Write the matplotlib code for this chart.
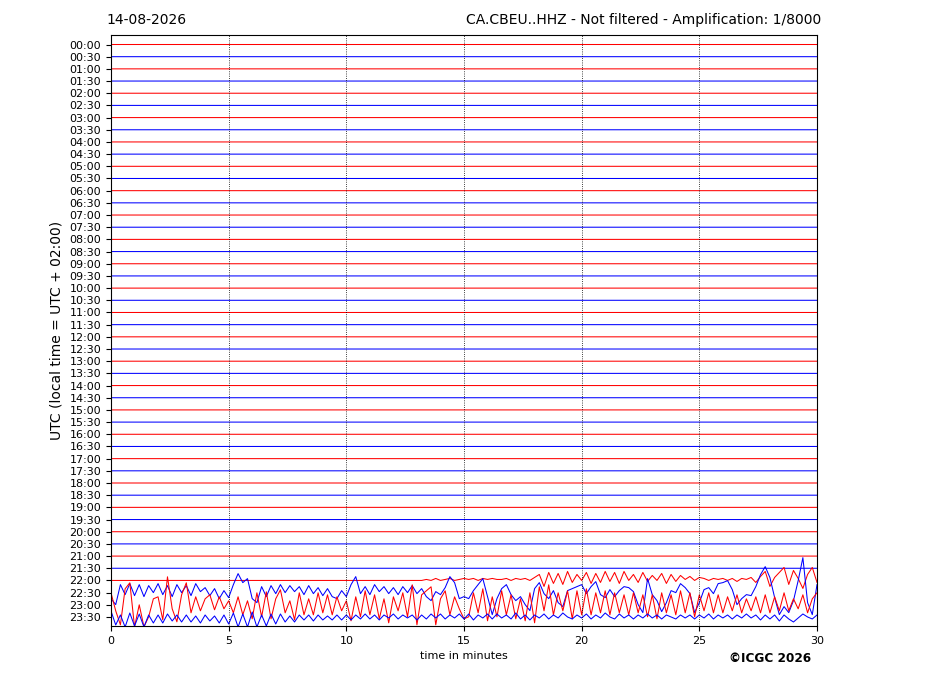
import numpy as np
import matplotlib
matplotlib.use("Agg")
import matplotlib.pyplot as plt

# ---------------- data ----------------
date_label = "14-08-2026"
title_label = "CA.CBEU..HHZ - Not filtered - Amplification: 1/8000"
copyright_label = "\u00a9ICGC 2026"

row_labels = ["%02d:%02d" % (h, m) for h in range(24) for m in (0, 30)]
row_colors = ["red", "blue"]          # alternating per row
minutes_span = 30

# deflections (pixels at the reference scale, up positive), sampled evenly over 0..30 min
trace_2200 = [0, 0, 0, 0, 0, 0, 0, 0, 0, 0,
              0, 0, 0, 0, 0, 0, 0, 0, 0, 0,
              0, 0, 0, 0, 0, 0, 0, 0, 0, 0,
              0, 0, 0, 0, 0, 0, 0, 0, 0, 0,
              0, 0, 0, 0, 0, 0, 0, 0, 0, 0,
              0, 0, 0, 0, 0, 0, 0, 0, 0, 0,
              0, 0, 0, 0, 0, 0, 0,
              1, 0, 2, 0,
              1, 2, 0, 1, 2,
              1, 2, 0, 2, 1,
              2, 1, 1, 2, 0,
              2, 1, 2, 0, 3,
              6, -6, 8, -3, 7,
              -4, 9, -2, 6, 0,
              8, -3, 7, -2, 9,
              -1, 8, -3, 9, 0,
              6, -2, 8, -1, 5,
              0, 7, -3, 6, -1,
              5, 1, 4, 0, 3,
              2, 0, 2, 1, 2,
              0, 2, -1, 2, 1,
              3, -2, 4, 9, -6,
              3, 8, 13, -4, 10,
              2, -8, 6, 13, -2]

trace_2230 = [-6, -12, 8, -2, 9, -3, 8, -4, 7, 0,
              9, -2, 7, -4, 8, 0, 7, -3, 9, 1,
              5, -3, 4, -6, 2, -5, 8, 19, 10, 14,
              -6, -10, 6, -4, 7, -1, 8, 0, 7, 1,
              6, -2, 7, -1, 5, -3, 4, -4, -6, 2,
              -4, 8, 16, -1, 6, -2, 8, 1, 6, -1,
              5, -2, 6, 0, 7, -1, 4, -4, -8, 1,
              -2, 5, 16, 10, -6, -4,
              -6, 2, 8, 14, -4,
              -22, -6, 4, 8, -2,
              -8, -4, -12, -18, 4,
              10, -1, -6, 2, -10,
              -14, 2, 4, 6, 8,
              -1, 6, 11, -2, -5,
              3, -4, 2, 6, 5,
              1, -12, -20, 14, -2,
              -8, -19, -10, 2, 0,
              9, 5, -1, -20, -10,
              3, 5, -1, 9, 10,
              12, 3, -12, -6, -2,
              -3, 6, 18, 26, 15,
              -5, -22, -14, -20, -8,
              12, 35, -10, -22, 8]

trace_2300 = [12, -6, -20, 16, 22, -22, 0, -22, -12, 6,
              8, -15, 28, -4, -17, 10, 22, -8, 8, -6,
              6, 10, -5, 8, -4, 4, -8, 8, -10, 4,
              -14, 12, -12, 13, -14, 6, 15, -8, 4, -15,
              12, -10, 6, -10, 12, -8, 10, -10, 8, -6,
              4, -16, 8, -12, 14, -10, 10, -14, 6, -18,
              8, -6, 12, -12, 20, -20, 10, 14, 18, -20,
              6, 14, -10, 8, -4, -14, -12, 12, -8, 16,
              -16, 8, -12, 14, -10, 10, -14, 6, -16, 12,
              -18, 18, -6, 20, -10, 12, -6, 14, -14, 14,
              -10, 16, -10, 12, -8, 14, -10, 12, -8, 10,
              -10, 12, -8, 10, -12, 10, -14, 12, -8, 10,
              -10, 14, -8, 12, -12, 10, -6, 12, -8, 10,
              -8, 8, -6, 10, -8, 6, -6, 8, -8, 10,
              -8, 8, -6, 12, -6, 6, -4, 10, -8, 6,
              12]

trace_2330 = [6, -8, 2, -10, 4, -9, 3, -10, 2, -6,
              2, -6, 3, -4, 2, -5, 2, -5, 1, -6,
              2, -4, 1, -6, 2, -7, 4, -10, 3, -10,
              5, -10, 2, -9, 3, -7, 3, -5, 1, -5,
              2, -3, 2, -4, 2, -3, 1, -3, 2, -3,
              2, -3, 2, -2, 3, -2, 2, -3, 2, -1,
              3, -2, 2, -1, 2, -3, 2, -2, 3, -1,
              3, -2, 2, -1, 3, -2, 3, -3, 2, -1,
              3, -2, 3, -1, 2, -2, 4, -2, 2, -3,
              2, -1, 3, -2, 2, -1, 4, 0, -2, 2,
              -1, 3, -2, 2, -1, 4, 0, -2, 3, -1,
              2, -2, 2, -1, 3, -1, 2, -2, 2, 0,
              -2, 2, -1, 2, -2, 2, -1, 3, -2, 2,
              -1, 2, -2, 2, -1, 3, -1, 2, -3, 2,
              -2, 2, -4, 2, -2, -5, -1, 3, 0, -2,
              2]

active_traces = {"22:00": trace_2200, "22:30": trace_2230,
                 "23:00": trace_2300, "23:30": trace_2330}

# ---------------- plot ----------------
px_per_row = 12.18
fig = plt.figure(figsize=(9.27, 6.96), dpi=100)
ax = fig.add_axes([111 / 927, 70 / 696, 706 / 927, 591 / 696])

n_rows = len(row_labels)
for i, lab in enumerate(row_labels):
    base = -i
    color = row_colors[i % 2]
    if lab in active_traces:
        vals = np.asarray(active_traces[lab], dtype=float)
        t = np.linspace(0, minutes_span, len(vals))
        ax.plot(t, base + vals / px_per_row, color=color, lw=0.75, snap=False)
    else:
        ax.plot([0, minutes_span], [base, base], color=color, lw=0.75, snap=False)

ax.set_xlim(0, minutes_span)
ax.set_ylim(-(n_rows - 1) - 0.74, 0.78)
ax.set_yticks([-i for i in range(n_rows)])
ax.set_yticklabels(row_labels, fontsize=8)
ax.set_xticks(range(0, minutes_span + 1, 5))
ax.tick_params(axis="x", labelsize=8)
for xv in range(5, minutes_span, 5):
    ax.axvline(xv, color="black", ls=":", lw=0.6)
ax.set_xlabel("time in minutes", fontsize=8)
ax.set_ylabel("UTC (local time = UTC + 02:00)", fontsize=10)

fig.text(106 / 927, 1 - 20 / 696, date_label, fontsize=10, ha="left", va="center")
fig.text(821 / 927, 1 - 20 / 696, title_label, fontsize=10, ha="right", va="center")
fig.text(811 / 927, 1 - 658 / 696, copyright_label, fontsize=8.7, fontweight="bold",
         ha="right", va="center")

fig.savefig("out.png", dpi=100)
